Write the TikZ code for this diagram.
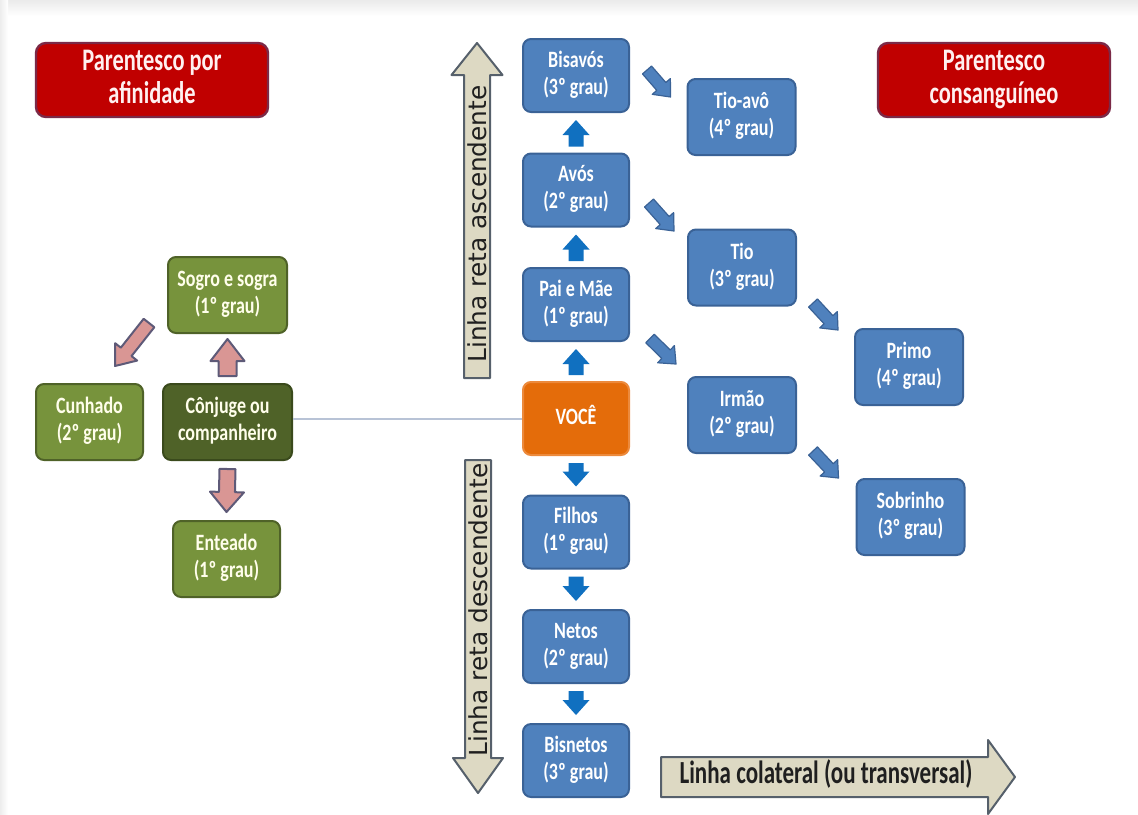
\documentclass[tikz,border=0pt]{standalone}
\usepackage{fontspec}
\usepackage{graphicx}
\setmainfont{Carlito}
\newfontfamily\dejavu{DejaVu Sans}
\usetikzlibrary{calc}
\definecolor{azul}{HTML}{4F81BD}
\definecolor{azulborda}{HTML}{3A6296}
\definecolor{azulseta}{HTML}{1070C0}
\definecolor{laranja}{HTML}{E46C0A}
\definecolor{laranjaborda}{HTML}{EC8A3C}
\definecolor{verde}{HTML}{77933C}
\definecolor{verdeborda}{HTML}{4F6228}
\definecolor{verdeescuro}{HTML}{4F6228}
\definecolor{verdeescuroborda}{HTML}{3A4A1C}
\definecolor{vermelho}{HTML}{C00000}
\definecolor{vermelhoborda}{HTML}{7B2947}
\definecolor{rosa}{HTML}{D99694}
\definecolor{rosaborda}{HTML}{5E5A78}
\definecolor{bege}{HTML}{DDD9C3}
\definecolor{begeborda}{HTML}{56606B}
\definecolor{linhacinza}{HTML}{B8C3D6}
% texto esticado na vertical
\newcommand{\esticar}[2][1.3]{\scalebox{1}[#1]{\begin{tabular}{@{}c@{}}#2\end{tabular}}}
% seta em bloco: [estilo]{cauda}{ponta}{meia largura}{meia cabeca}{comprimento cabeca}
\newcommand{\blocoseta}[6][]{%
  \coordinate (bs-a) at (#2);
  \coordinate (bs-b) at (#3);
  \coordinate (bs-c) at ($(bs-b)!#6!(bs-a)$);
  \draw[#1] ($(bs-a)!#4!90:(bs-b)$) -- ($(bs-c)!#4!90:(bs-b)$) -- ($(bs-c)!#5!90:(bs-b)$) -- (bs-b)
    -- ($(bs-c)!#5!-90:(bs-b)$) -- ($(bs-c)!#4!-90:(bs-b)$) -- ($(bs-a)!#4!-90:(bs-b)$) -- cycle;}
\tikzset{
  caixa/.style={rounded corners=4pt, line width=1pt, align=center, inner sep=0pt,
    font=\bfseries\fontsize{9}{10.3}\selectfont},
  azulcx/.style={caixa, fill=azul, draw=azulborda, text=white, minimum width=53pt, minimum height=36.5pt},
  vocecx/.style={azulcx, fill=laranja, draw=laranjaborda},
  verdecx/.style={caixa, fill=verde, draw=verdeborda, text=white!92!yellow, minimum width=53.5pt, minimum height=38pt},
  cabec/.style={rounded corners=5pt, line width=1.2pt, fill=vermelho, draw=vermelhoborda, text=white!94!red,
    align=center, inner sep=0pt, minimum width=116pt, minimum height=37pt,
    font=\bfseries\fontsize{11.2}{11.8}\selectfont},
  setaazul/.style={fill=azulseta, draw=none},
  setadiag/.style={fill=azul, draw=azulborda, line width=0.6pt, line join=round},
  setarosa/.style={fill=rosa, draw=rosaborda, line width=1pt, line join=round},
  setabege/.style={fill=bege, draw=begeborda, line width=1pt, line join=round},
  textoseta/.style={text=black!88, inner sep=0pt}
}
\begin{document}
\begin{tikzpicture}[x=0.5pt, y=-0.5pt]
\useasboundingbox (0,0) rectangle (1138,814);
\shade[top color=gray!16, bottom color=white] (0,0) rectangle (1138,16);%fundo
\shade[left color=gray!14, right color=white] (0,0) rectangle (8,814);
% titulos
\node[cabec] (afin) at (152,80) {\esticar[1.4]{Parentesco por\\afinidade}};
\node[cabec] (consang) at (994,80) {\esticar[1.4]{Parentesco\\consanguíneo}};
% linha reta
\node[azulcx] (bisavos) at (576,75.5) {\esticar{Bisavós\\(3º grau)}};
\node[azulcx] (avos) at (576,190) {\esticar{Avós\\(2º grau)}};
\node[azulcx] (pai) at (576,304.5) {\esticar{Pai e Mãe\\(1º grau)}};
\node[vocecx] (voce) at (576,418.5) {\esticar{VOCÊ}};
\node[azulcx] (filhos) at (576,532) {\esticar{Filhos\\(1º grau)}};
\node[azulcx] (netos) at (576,646.5) {\esticar{Netos\\(2º grau)}};
\node[azulcx] (bisnetos) at (576,760.5) {\esticar{Bisnetos\\(3º grau)}};
% colaterais
\node[azulcx, minimum width=54pt, minimum height=38pt] (tioavo) at (741.5,117) {\esticar{Tio-avô\\(4º grau)}};
\node[azulcx, minimum width=54pt, minimum height=38pt] (tio) at (742,267.5) {\esticar{Tio\\(3º grau)}};
\node[azulcx, minimum width=54pt, minimum height=38pt] (irmao) at (742,415) {\esticar{Irmão\\(2º grau)}};
\node[azulcx, minimum width=54pt, minimum height=38pt] (primo) at (909,367) {\esticar{Primo\\(4º grau)}};
\node[azulcx, minimum width=54pt, minimum height=38pt] (sobrinho) at (910.5,517) {\esticar{Sobrinho\\(3º grau)}};
% afinidade
\node[verdecx, minimum width=59.5pt] (sogro) at (227.5,295) {\esticar{Sogro e sogra\\(1º grau)}};
\node[verdecx] (cunhado) at (89.5,422) {\esticar{Cunhado\\(2º grau)}};
\node[verdecx, fill=verdeescuro, draw=verdeescuroborda, minimum width=64.5pt] (conjuge) at (227.5,422) {\esticar{Cônjuge ou\\companheiro}};
\node[verdecx] (enteado) at (226.5,559) {\esticar{Enteado\\(1º grau)}};
\draw[linhacinza, line width=1pt] (conjuge.east |- voce.west) -- (voce.west);
% setas azuis
\blocoseta[setaazul]{$(avos.north)+(0,-6)$}{$(bisavos.south)+(0,7)$}{3.75pt}{6.75pt}{7.5pt}
\blocoseta[setaazul]{$(pai.north)+(0,-6)$}{$(avos.south)+(0,7)$}{3.75pt}{6.75pt}{7.5pt}
\blocoseta[setaazul]{$(voce.north)+(0,-6)$}{$(pai.south)+(0,7)$}{3.75pt}{6.75pt}{7.5pt}
\blocoseta[setaazul]{$(voce.south)+(0,7)$}{$(filhos.north)+(0,-8)$}{3.75pt}{6.75pt}{7.5pt}
\blocoseta[setaazul]{$(filhos.south)+(0,7)$}{$(netos.north)+(0,-8)$}{3.75pt}{6.75pt}{7.5pt}
\blocoseta[setaazul]{$(netos.south)+(0,7)$}{$(bisnetos.north)+(0,-8)$}{3.75pt}{6.75pt}{7.5pt}
\blocoseta[setadiag]{$(bisavos.east)+(17,-5.5)$}{$(tioavo.west)+(-16,-20)$}{3pt}{6pt}{7pt}
\blocoseta[setadiag]{$(avos.east)+(19,13)$}{$(tio.west)+(-13,-36.5)$}{3pt}{6pt}{7pt}
\blocoseta[setadiag]{$(pai.east)+(20,34)$}{$(irmao.west)+(-11,-51)$}{3pt}{6pt}{7pt}
\blocoseta[setadiag]{$(tio.east)+(16,35.5)$}{$(primo.west)+(-16,-37)$}{3pt}{6pt}{7pt}
\blocoseta[setadiag]{$(irmao.east)+(16,36)$}{$(sobrinho.west)+(-17,-39)$}{3pt}{6pt}{7pt}
% setas rosa
\blocoseta[setarosa]{$(conjuge.north)+(0,-7)$}{$(sogro.south)+(0,5)$}{4.5pt}{8.5pt}{11pt}
\blocoseta[setarosa]{$(conjuge.south)+(0,8)$}{$(enteado.north)+(0,-8)$}{4pt}{8.5pt}{10pt}
\blocoseta[setarosa]{$(sogro.west)+(-18,28)$}{$(cunhado.north)+(25.5,-17)$}{3.4pt}{7pt}{9pt}
% linhas (setas grandes)
\coordinate (asc-a) at (477,378); \coordinate (asc-b) at (477,43);
\coordinate (desc-a) at (478,460); \coordinate (desc-b) at (478,793);
\coordinate (col-a) at (661,777); \coordinate (col-b) at (1015,777);
\blocoseta[setabege]{asc-a}{asc-b}{6.5pt}{12.75pt}{16pt}
\blocoseta[setabege]{desc-a}{desc-b}{6.5pt}{12.5pt}{17.5pt}
\blocoseta[setabege]{col-a}{col-b}{10pt}{18.5pt}{13.5pt}
\node[textoseta, rotate=90, font=\dejavu\fontsize{12.4}{14}\selectfont] (txtasc) at (477,224) {Linha reta ascendente};
\node[textoseta, rotate=90, font=\dejavu\fontsize{12.4}{14}\selectfont] (txtdesc) at (478,610) {Linha reta descendente};
\node[textoseta, font=\bfseries\fontsize{11.5}{12}\selectfont] (txtcol) at (826,777) {\esticar[1.4]{Linha colateral (ou transversal)}};
\end{tikzpicture}
\end{document}
